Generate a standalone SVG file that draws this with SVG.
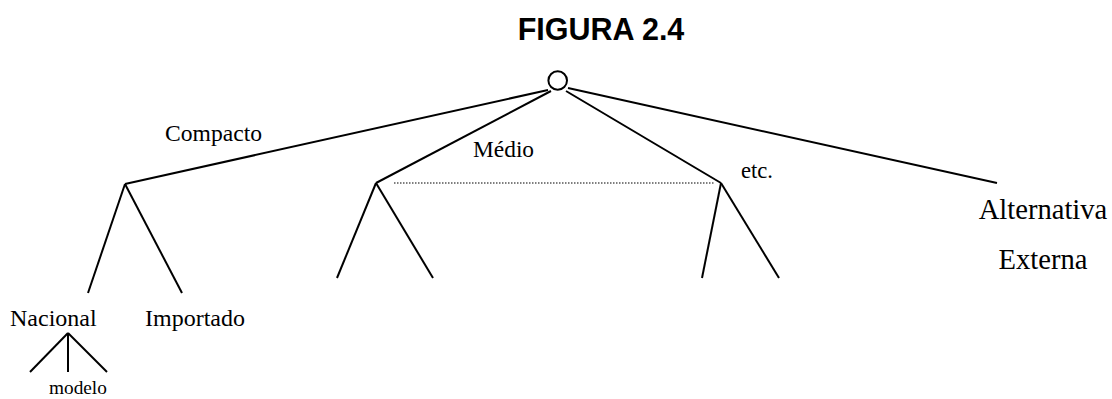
<svg xmlns="http://www.w3.org/2000/svg" width="1112" height="399" viewBox="0 0 1112 399">
  <style>
    .ln { stroke: #000; stroke-width: 2; fill: none; stroke-linecap: butt; }
    .dot { stroke: #000; stroke-width: 1.2; stroke-dasharray: 1.5 1.5; fill: none; }
    .lbl { font-family: "Liberation Serif", "Times New Roman", serif; fill: #000; }
    .title { font-family: "Liberation Sans", Arial, sans-serif; font-weight: bold; fill: #000; }
  </style>
  <rect width="1112" height="399" fill="#fff"/>
  <text class="title" x="601" y="40" font-size="30.5" text-anchor="middle">FIGURA 2.4</text>

  <g id="root">
    <circle cx="557.7" cy="80.5" r="9.3" fill="#fff" stroke="#000" stroke-width="2"/>
  </g>

  <g id="connectors">
    <line class="ln" x1="548" y1="90" x2="125" y2="184"/>
    <line class="ln" x1="551" y1="91" x2="376" y2="183"/>
    <line class="ln" x1="566" y1="91" x2="721" y2="183"/>
    <line class="ln" x1="568" y1="88" x2="997" y2="183"/>
    <line class="dot" x1="394" y1="183" x2="715" y2="183"/>
    <line class="ln" x1="125" y1="184" x2="88" y2="293"/>
    <line class="ln" x1="125" y1="184" x2="182" y2="293"/>
    <line class="ln" x1="376" y1="183" x2="337" y2="278"/>
    <line class="ln" x1="376" y1="183" x2="433" y2="278"/>
    <line class="ln" x1="721" y1="183" x2="702" y2="278"/>
    <line class="ln" x1="721" y1="183" x2="779" y2="278"/>
    <line class="ln" x1="68" y1="333" x2="30" y2="372"/>
    <line class="ln" x1="68" y1="333" x2="68" y2="372"/>
    <line class="ln" x1="68" y1="333" x2="107" y2="372"/>
  </g>

  <g id="compacto">
    <text class="lbl" x="165" y="141" font-size="23.6">Compacto</text>
  </g>
  <g id="medio">
    <text class="lbl" x="473" y="157" font-size="23.4">Médio</text>
  </g>
  <g id="etc">
    <text class="lbl" x="741" y="178" font-size="22.6">etc.</text>
  </g>
  <g id="alternativa-externa">
    <text class="lbl" x="1043" y="219" font-size="28.6" text-anchor="middle">Alternativa</text>
    <text class="lbl" x="1043" y="269" font-size="28.6" text-anchor="middle">Externa</text>
  </g>
  <g id="nacional">
    <text class="lbl" x="10" y="326" font-size="24">Nacional</text>
  </g>
  <g id="importado">
    <text class="lbl" x="145" y="326" font-size="24">Importado</text>
  </g>
  <g id="modelo">
    <text class="lbl" x="49" y="394" font-size="19.3">modelo</text>
  </g>
</svg>
